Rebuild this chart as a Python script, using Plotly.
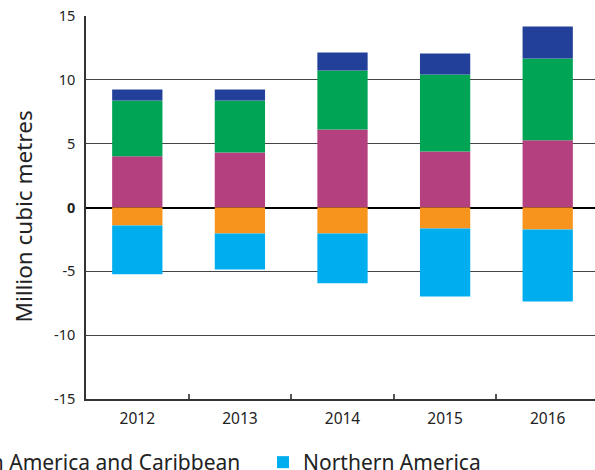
import plotly.graph_objects as go

years = ["2012", "2013", "2014", "2015", "2016"]

# Positive contributions (stacked upward)
europe = [4.02, 4.31, 6.11, 4.39, 5.27]
asia_pacific = [4.36, 4.07, 4.62, 6.03, 6.40]
africa = [0.86, 0.86, 1.41, 1.64, 2.50]
# Negative contributions (stacked downward)
latin_america = [-1.41, -2.04, -2.04, -1.64, -1.72]
northern_america = [-3.81, -2.82, -3.89, -5.33, -5.64]

y_ticks = [-15, -10, -5, 0, 5, 10, 15]
y_ticktext = ["-15", "-10", "-5", "<b>0</b>", "5", "10", "15"]
y_title = "Million cubic metres"

FONT = "Noto Sans"
W, H = 595, 470
ML, MR, MT, MB = 86, 0, 16, 71
plot_w = W - ML - MR
plot_h = H - MT - MB

fig = go.Figure()
fig.add_bar(x=years, y=europe, name="Europe", marker_color="#B5407F", showlegend=False)
fig.add_bar(x=years, y=asia_pacific, name="Asia-Pacific", marker_color="#00A455", showlegend=False)
fig.add_bar(x=years, y=africa, name="Africa", marker_color="#22409A", showlegend=False)
fig.add_bar(x=years, y=latin_america, name="Latin America and Caribbean",
            marker_color="#F7941D", legend="legend")
fig.add_bar(x=years, y=northern_america, name="Northern America",
            marker_color="#00AEEF", legend="legend2")

fig.update_traces(width=0.49, marker_line_width=0)

leg_y = -(442 - (MT + plot_h)) / plot_h

fig.update_layout(
    width=W, height=H,
    margin=dict(l=ML, r=MR, t=MT, b=MB, autoexpand=False),
    barmode="relative",
    plot_bgcolor="white", paper_bgcolor="white",
    font=dict(family=FONT, color="#222"),
    legend=dict(orientation="h", x=(246 - ML) / plot_w, xanchor="right",
                y=leg_y, yanchor="top", font=dict(size=21, family=FONT, color="#222"),
                bgcolor="rgba(0,0,0,0)"),
    legend2=dict(orientation="h", x=(263 - ML) / plot_w, xanchor="left",
                 y=leg_y, yanchor="top", font=dict(size=21, family=FONT, color="#222"),
                 bgcolor="rgba(0,0,0,0)"),
    annotations=[dict(
        text=y_title, textangle=-90, showarrow=False,
        xref="paper", yref="paper",
        x=(23 - ML) / plot_w, xanchor="center",
        y=(MT + plot_h - 216.5) / plot_h, yanchor="middle",
        font=dict(size=22.5, family=FONT, color="#222"),
    )],
)

fig.update_xaxes(
    range=[-0.5, 4.5 - 4 / 102.6],
    showline=True, linecolor="#333", linewidth=1.5,
    ticks="inside", tickson="boundaries", ticklen=5, tickcolor="#555", tickwidth=1.5,
    tickfont=dict(size=15.5, family=FONT, color="#222"),
    ticklabelstandoff=5,
    showgrid=False,
)
fig.update_yaxes(
    range=[-15, 15], tickvals=y_ticks, ticktext=y_ticktext,
    showline=True, linecolor="#333", linewidth=1.5,
    showgrid=True, gridcolor="#444", gridwidth=1.3,
    zeroline=True, zerolinecolor="#000", zerolinewidth=1.5,
    tickfont=dict(size=14.5, family=FONT, color="#222"),
    ticklabelstandoff=6,
    automargin=False,
)

fig.write_html("out.html", config={"displayModeBar": False},
               post_script="document.body.style.margin='0';")
